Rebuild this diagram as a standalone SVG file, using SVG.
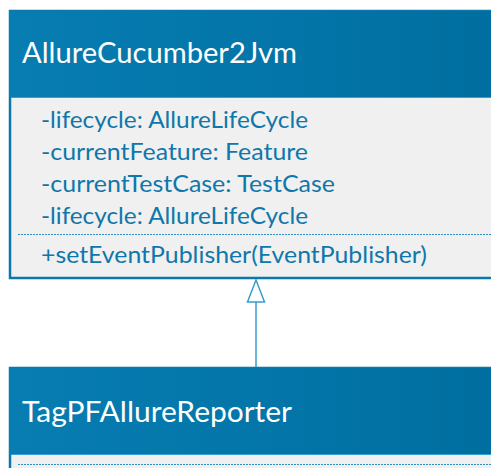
<svg xmlns="http://www.w3.org/2000/svg" width="491" height="468" viewBox="0 0 491 468">
  <defs>
    <linearGradient id="hdr" x1="0" y1="0" x2="1" y2="0">
      <stop offset="0" stop-color="#077db2"/>
      <stop offset="1" stop-color="#006e9f"/>
    </linearGradient>
  </defs>
  <style>
    .box { fill: #f0f0f0; stroke: #0a78ad; stroke-width: 2.5; }
    .hdr { fill: url(#hdr); }
    .hline { stroke: #3a9fd0; stroke-width: 1; }
    .title { font-family: Lato, "Liberation Sans", Arial, sans-serif; font-size: 29px; fill: #ffffff; }
    .mem { font-family: Lato, "Liberation Sans", Arial, sans-serif; font-size: 22.5px; fill: #0f77aa; }
    .sep { stroke: #2f8fc2; stroke-width: 1; stroke-dasharray: 2 1; }
    .conn { stroke: #3a9ccb; stroke-width: 1.5; fill: none; }
    .tri { fill: #ffffff; stroke: #3a9ccb; stroke-width: 1.5; }
  </style>
  <rect width="491" height="468" fill="#ffffff"/>

  <g id="connectors">
    <line class="conn" x1="256" y1="302" x2="256" y2="368"/>
    <polygon class="tri" points="256,280 247.5,302 264.5,302"/>
  </g>

  <g id="AllureCucumber2Jvm">
    <rect class="box" x="10" y="11" width="500" height="267"/>
    <rect class="hdr" x="9" y="11" width="502" height="86"/>
    <line class="hline" x1="11" y1="97.5" x2="491" y2="97.5"/>
    <text class="title" x="22" y="63" textLength="275" lengthAdjust="spacingAndGlyphs">AllureCucumber2Jvm</text>
    <text class="mem" x="41" y="128" textLength="267" lengthAdjust="spacingAndGlyphs">-lifecycle: AllureLifeCycle</text>
    <text class="mem" x="41" y="160" textLength="267" lengthAdjust="spacingAndGlyphs">-currentFeature: Feature</text>
    <text class="mem" x="41" y="192" textLength="294" lengthAdjust="spacingAndGlyphs">-currentTestCase: TestCase</text>
    <text class="mem" x="41" y="224" textLength="267" lengthAdjust="spacingAndGlyphs">-lifecycle: AllureLifeCycle</text>
    <line class="sep" x1="18" y1="234.5" x2="491" y2="234.5"/>
    <text class="mem" x="41" y="263" textLength="386" lengthAdjust="spacingAndGlyphs">+setEventPublisher(EventPublisher)</text>
  </g>

  <g id="TagPFAllureReporter">
    <rect class="box" x="10" y="368" width="500" height="120"/>
    <rect class="hdr" x="9" y="368" width="502" height="86"/>
    <line class="hline" x1="11" y1="454.5" x2="491" y2="454.5"/>
    <text class="title" x="22" y="422" textLength="270" lengthAdjust="spacingAndGlyphs">TagPFAllureReporter</text>
    <line class="sep" x1="18" y1="464.5" x2="491" y2="464.5"/>
  </g>
</svg>
